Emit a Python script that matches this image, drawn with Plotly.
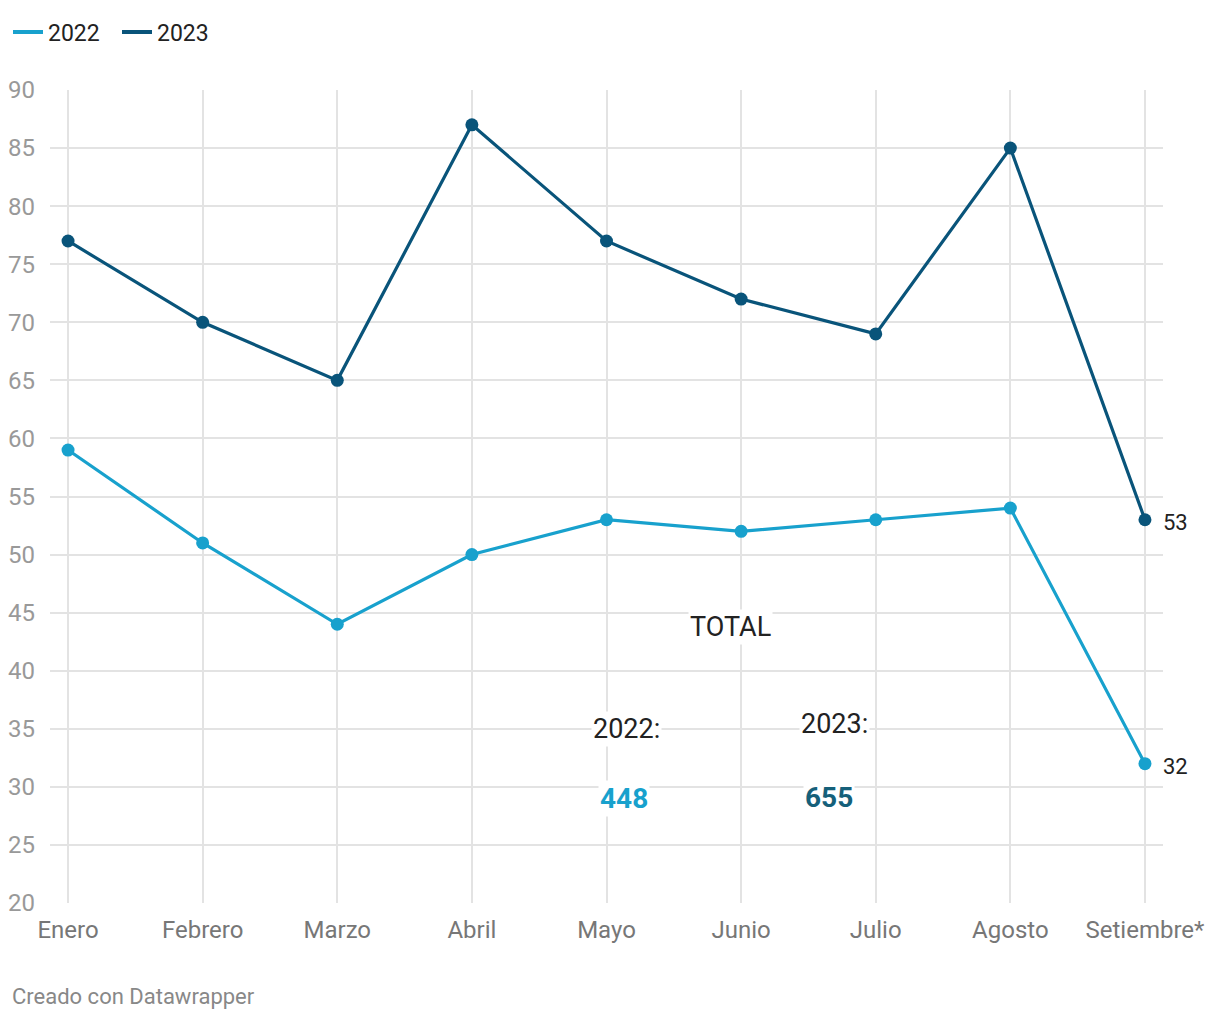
import plotly.graph_objects as go

months = ["Enero", "Febrero", "Marzo", "Abril", "Mayo", "Junio", "Julio", "Agosto", "Setiembre*"]
v2022 = [59, 51, 44, 50, 53, 52, 53, 54, 32]
v2023 = [77, 70, 65, 87, 77, 72, 69, 85, 53]
total_2022 = 448
total_2023 = 655
yticks = list(range(20, 95, 5))

c22 = "#18a1cd"
c23 = "#09547a"
xi = list(range(len(months)))

fig = go.Figure()
for name, vals, col in [("2022", v2022, c22), ("2023", v2023, c23)]:
    fig.add_trace(go.Scatter(
        x=xi, y=vals, name=name, mode="lines+markers", showlegend=False,
        line=dict(color=col, width=3.2), marker=dict(color=col, size=13),
        cliponaxis=False,
    ))
    # legend-only entry (line sample without marker)
    fig.add_trace(go.Scatter(
        x=[None], y=[None], name=name, mode="lines",
        line=dict(color=col, width=4), showlegend=True,
    ))
    fig.add_annotation(x=xi[-1], y=vals[-1], text=str(vals[-1]), showarrow=False,
                       xanchor="left", xshift=16, yshift=-3,
                       font=dict(family="Roboto", size=22, color="#222"))

ann_font = dict(family="Roboto", size=27, color="#222")
fig.add_annotation(x=4.92, y=43.8, text="TOTAL", showarrow=False, font=ann_font, bgcolor="white")
fig.add_annotation(x=4.15, y=35.0, text="2022:", showarrow=False, font=ann_font, bgcolor="white")
fig.add_annotation(x=5.69, y=35.4, text="2023:", showarrow=False, font=ann_font, bgcolor="white")
fig.add_annotation(x=4.13, y=29.0, text="<b>%d</b>" % total_2022, showarrow=False,
                   font=dict(family="Roboto", size=28, color=c22), bgcolor="white")
fig.add_annotation(x=5.65, y=29.1, text="<b>%d</b>" % total_2023, showarrow=False,
                   font=dict(family="Roboto", size=28, color="#15607a"), bgcolor="white")
fig.add_annotation(x=-0.0359, y=-0.1156, xref="paper", yref="paper",
                   xanchor="left", yanchor="middle",
                   text="Creado con Datawrapper", showarrow=False,
                   font=dict(family="Roboto", size=22, color="#888"))

fig.update_layout(
    width=1220, height=1020,
    margin=dict(l=42, r=65, t=82, b=125, autoexpand=False),
    paper_bgcolor="white", plot_bgcolor="white",
    font=dict(family="Roboto", size=20, color="#222"),
    showlegend=True,
    legend=dict(orientation="h", x=0, xref="container", y=1 - 24 / 1020, yref="container",
                yanchor="middle", xanchor="left", font=dict(size=23, color="#222"),
                entrywidth=64, entrywidthmode="pixels"),
    xaxis=dict(tickmode="array", tickvals=xi, ticktext=months, range=[-0.134, 8.134],
               showgrid=True, gridcolor="#e3e3e3", gridwidth=2, zeroline=False,
               tickfont=dict(size=24, color="#777"), ticks="", showline=False,
               ticklabelstandoff=10, automargin=False),
    yaxis=dict(tickmode="array", tickvals=yticks, range=[20, 90],
               showgrid=True, gridcolor="#e3e3e3", gridwidth=2, zeroline=False,
               tickfont=dict(size=24, color="#999"), ticks="", ticklabelstandoff=14,
               automargin=False),
)
fig.write_html("out.html")
